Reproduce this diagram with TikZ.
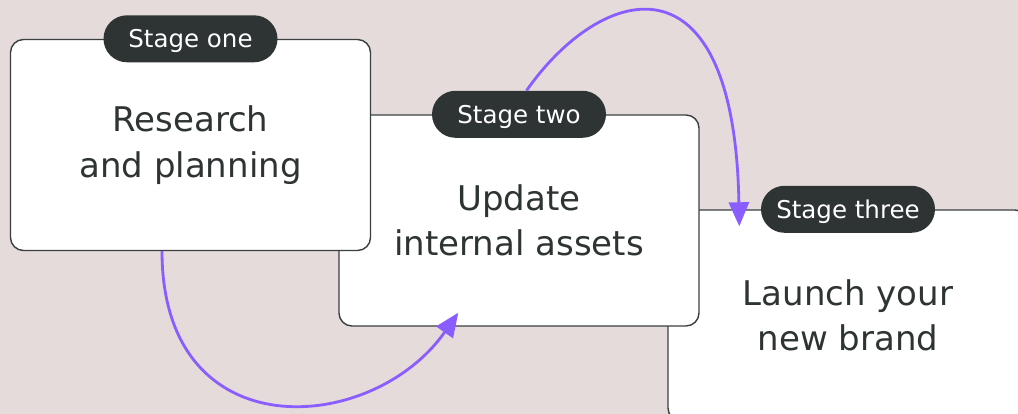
\documentclass[tikz,border=0pt]{standalone}
\usepackage{fontspec}
\setmainfont{DejaVu Sans}
\usetikzlibrary{positioning,arrows.meta}
\definecolor{BgPink}{HTML}{E5DBDB}
\definecolor{InkDark}{HTML}{2D3433}
\definecolor{EdgeGrey}{HTML}{3A3F3F}
\definecolor{FlowPurple}{HTML}{8A5DFF}

\begin{document}
\begin{tikzpicture}[x=1pt,y=1pt,
    stagebox/.style={draw=EdgeGrey, line width=1.4pt, fill=white, rounded corners=13pt,
      minimum width=360pt, minimum height=211pt, align=center, text=InkDark,
      font=\fontsize{34}{45.5}\selectfont},
    stagetag/.style={fill=InkDark, text=white, rounded corners=23.5pt,
      minimum width=174pt, minimum height=47pt, text depth=0pt,
      font=\fontsize{24.5}{28}\selectfont},
    flow/.style={draw=FlowPurple, line width=2.8pt, -{Triangle[length=24pt,width=20pt]}}]
      \clip (0,0) rectangle (1018,-414);
      \fill[BgPink] (0,0) rectangle (1018,-414);

      \node[stagebox] (Launch) at (848,-315.5) {Launch your\\new brand};
      \node[stagebox, on grid, above left=95pt and 329pt of Launch] (Update) {Update\\internal assets};
      \node[stagebox, on grid, above left=75.5pt and 328.5pt of Update] (Plan) {Research\\and planning};

      \node[stagetag] (StageOne) at (Plan.north) {Stage one};
      \node[stagetag] (StageTwo) at (Update.north) {Stage two};
      \node[stagetag] (StageThree) at (Launch.north) {Stage three};

      \draw[flow] ([xshift=-28.5pt]Plan.south) to[out=-90, in=-125, out distance=200pt, in distance=150pt] ([shift={(120,14)}]Update.south west);
      \draw[flow] ([xshift=7.5pt]StageTwo.north) to[out=55, in=91, out distance=130pt, in distance=280pt] ([shift={(72,-17)}]Launch.north west);
    \end{tikzpicture}
\end{document}
